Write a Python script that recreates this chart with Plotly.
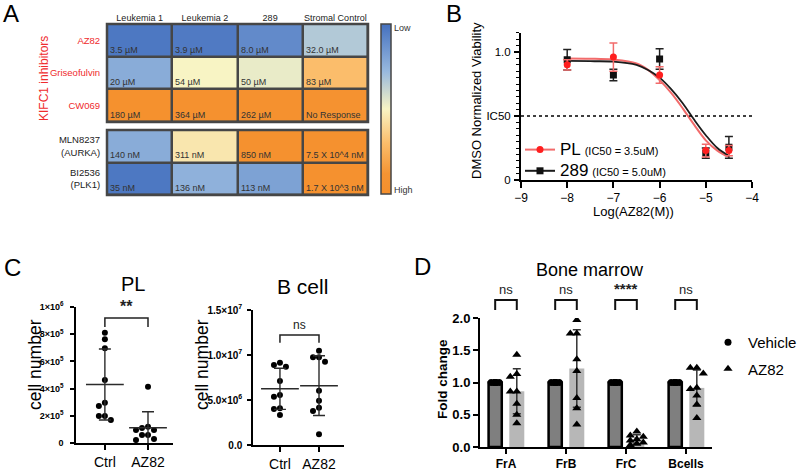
import numpy as np
import plotly.graph_objects as go

W, H = 800, 471
FONT = "Arial, Liberation Sans, Helvetica, sans-serif"
RED_TXT = "#ef2b2d"

# ================= DATA =================
# ---- Panel A: IC50 heat map ----
cell_lines = ["Leukemia 1", "Leukemia 2", "289", "Stromal Control"]
kifc1_inhibitors = ["AZ82", "Griseofulvin", "CW069"]
kifc1_ic50_labels = [
    ["3.5 µM", "3.9 µM", "8.0 µM", "32.0 µM"],
    ["20 µM", "54 µM", "50 µM", "83 µM"],
    ["180 µM", "364 µM", "262 µM", "No Response"],
]
# colour level (1 = low IC50 / blue, 0 = high IC50 / orange)
kifc1_level = [
    [0.97, 0.96, 0.90, 0.66],
    [0.77, 0.50, 0.535, 0.30],
    [0.04, 0.05, 0.05, 0.06],
]
mitotic_inhibitors = ["MLN8237<br>(AURKA)", "BI2536<br>(PLK1)"]
mitotic_ic50_labels = [
    ["140 nM", "311 nM", "850 nM", "7.5 X 10^4 nM"],
    ["35 nM", "136 nM", "113 nM", "1.7 X 10^3 nM"],
]
mitotic_level = [
    [0.77, 0.45, 0.05, 0.05],
    [0.97, 0.75, 0.81, 0.05],
]
scale_labels = ["Low", "High"]

# ---- Panel B: dose response ----
log_conc = [-8, -7, -6, -5, -4.5]
pl_viability = [0.90, 0.96, 0.82, 0.23, 0.23]
pl_sd = [0.04, 0.11, 0.065, 0.05, 0.04]
c289_viability = [0.94, 0.82, 0.945, 0.21, 0.255]
c289_sd = [0.08, 0.045, 0.08, 0.04, 0.085]
fit_log_conc = [-8, -7.5, -7, -6.5, -6.25, -6, -5.75, -5.5, -5.25, -5, -4.75, -4.5]
pl_fit = [0.95, 0.948, 0.94, 0.91, 0.86, 0.78, 0.68, 0.56, 0.43, 0.31, 0.23, 0.18]
c289_fit = [0.93, 0.928, 0.925, 0.90, 0.86, 0.80, 0.71, 0.60, 0.47, 0.35, 0.25, 0.19]
pl_label = "PL"
pl_ic50_text = "(IC50 = 3.5uM)"
c289_label = "289"
c289_ic50_text = "(IC50 = 5.0uM)"

# ---- Panel C: cell numbers ----
treatments = ["Ctrl", "AZ82"]
pl_ctrl = [8.11e5, 7.62e5, 6.96e5, 4.63e5, 2.96e5, 2.72e5, 1.99e5, 1.99e5, 1.69e5]
pl_az82 = [4.14e5, 1.20e5, 1.10e5, 0.96e5, 0.96e5, 0.59e5, 0.59e5, 0.30e5, 0.22e5]
bcell_ctrl = [9.15e6, 8.89e6, 8.70e6, 7.11e6, 5.56e6, 5.37e6, 4.07e6, 4.00e6, 3.33e6]
bcell_az82 = [10.48e6, 9.74e6, 9.74e6, 9.26e6, 6.04e6, 4.93e6, 4.15e6, 3.78e6, 1.19e6]
pl_ticks = [0, 2e5, 4e5, 6e5, 8e5, 1e6]
pl_ticktext = ["0", "2×10<sup>5</sup>", "4×10<sup>5</sup>", "6×10<sup>5</sup>",
               "8×10<sup>5</sup>", "1×10<sup>6</sup>"]
bcell_ticks = [0, 5e6, 1e7, 1.5e7]
bcell_ticktext = ["0.0", "5.0×10<sup>6</sup>", "1.0×10<sup>7</sup>", "1.5×10<sup>7</sup>"]
pl_sig = "**"
bcell_sig = "ns"

# ---- Panel D: bone marrow fold change ----
populations = ["FrA", "FrB", "FrC", "Bcells"]
vehicle_fold = [
    [1.0, 1.0, 1.0, 1.0, 1.0, 1.0, 1.0, 1.0],
    [1.0, 1.0, 1.0, 1.0, 1.0, 1.0, 1.0, 1.0],
    [1.0, 1.0, 1.0, 1.0, 1.0, 1.0, 1.0, 1.0],
    [1.0, 1.0, 1.0, 1.0, 1.0, 1.0, 1.0, 1.0],
]
az82_fold = [
    [1.43, 1.13, 1.09, 0.86, 0.86, 0.67, 0.50, 0.37],
    [1.97, 1.76, 1.76, 1.36, 1.18, 0.76, 0.60, 0.35],
    [0.24, 0.18, 0.16, 0.12, 0.10, 0.07, 0.05, 0.03],
    [1.23, 1.23, 1.14, 0.92, 0.90, 0.80, 0.66, 0.45],
]
d_significance = ["ns", "ns", "****", "ns"]

# ================= LAYOUT GEOMETRY (pixels) =================
A_X = (107, 368); A_TOP = (122, 24); A_BOT = (195, 130)
B_X = (521, 752); B_Y = (180, 32.8); B_XR = [-9, -4]; B_YR = [0, 1.15]
PL_X = (76, 173); PL_Y = (443, 307); PL_XR = [-0.67, 1.58]; PL_YR = [0, 1e6]
BC_X = (253, 344); BC_Y = (445, 310); BC_XR = [-0.69, 1.64]; BC_YR = [0, 1.5e7]
D_X = (480, 712); D_Y = (447, 318); D_XR = [-0.433, 3.433]; D_YR = [0, 2.0]


def dx(p):
    return [p[0] / W, p[1] / W]


def dy(p):
    return [1 - p[0] / H, 1 - p[1] / H]


def px_per_unit(pix, rng):
    return abs(pix[1] - pix[0]) / (rng[1] - rng[0])


def swarm(values, ypx, step, diam, max_off=None):
    """deterministic beeswarm offsets (in px) for dot plots"""
    vals = np.asarray(values, dtype=float)
    cands = [0.0]
    for k in range(1, 8):
        cands += [-k * step, k * step]
    if max_off is not None:
        cands = [c for c in cands if abs(c) <= max_off + 1e-9]
    placed, res = [], [0.0] * len(vals)
    for i in np.argsort(-vals, kind="stable"):
        y = vals[i] * ypx
        best, bestd = cands[0], -1
        for c in cands:
            d = min([np.hypot(c - a, y - b) for a, b in placed], default=1e9)
            if d >= diam:
                best = c
                break
            if d > bestd:
                best, bestd = c, d
        placed.append((best, y))
        res[i] = best
    return np.array(res)


fig = go.Figure()
ann = []
shapes = []

# ================= PANEL A =================
cs = [[0.0, "#f58f2c"], [0.12, "#f59433"], [0.30, "#fbbd6b"], [0.50, "#f8f4c4"],
      [0.72, "#98b9de"], [1.0, "#4470bf"]]
fig.add_trace(go.Heatmap(z=kifc1_level, x=cell_lines, y=kifc1_inhibitors,
                         coloraxis="coloraxis", xgap=2.5, ygap=2.5,
                         xaxis="x", yaxis="y", hoverinfo="skip"))
fig.add_trace(go.Heatmap(z=mitotic_level, x=cell_lines, y=mitotic_inhibitors,
                         coloraxis="coloraxis", xgap=2.5, ygap=2.5,
                         xaxis="x2", yaxis="y2", hoverinfo="skip"))
for labels, xa, ya in [(kifc1_ic50_labels, "x", "y"), (mitotic_ic50_labels, "x2", "y2")]:
    for r, row in enumerate(labels):
        for c, t in enumerate(row):
            ann.append(dict(x=c - 0.5, y=r + 0.5, xref=xa, yref=ya, text=t, showarrow=False,
                            xanchor="left", yanchor="bottom", xshift=1, yshift=0,
                            font=dict(size=9, color="#333")))
    shapes.append(dict(type="rect", xref=f"{xa} domain", yref=f"{ya} domain", x0=0, x1=1,
                       y0=0, y1=1, fillcolor="#464646", line=dict(width=0), layer="below"))
    shapes.append(dict(type="rect", xref=f"{xa} domain", yref=f"{ya} domain", x0=0, x1=1,
                       y0=0, y1=1, fillcolor="rgba(0,0,0,0)",
                       line=dict(color="#464646", width=2.5), layer="above"))
ann.append(dict(x=44 / W, y=1 - 79 / H, xref="paper", yref="paper", text="KIFC1 inhibitors",
                textangle=-90, showarrow=False, xanchor="center", yanchor="middle",
                font=dict(size=12, color=RED_TXT)))

# ================= PANEL B =================
fig.add_trace(go.Scatter(x=fit_log_conc, y=pl_fit, mode="lines", xaxis="x3", yaxis="y3",
                         line=dict(color="#f26b6b", width=2, shape="spline"),
                         showlegend=False, hoverinfo="skip"))
fig.add_trace(go.Scatter(x=fit_log_conc, y=c289_fit, mode="lines", xaxis="x3", yaxis="y3",
                         line=dict(color="#1c1c1c", width=1.8, shape="spline"),
                         showlegend=False, hoverinfo="skip"))
fig.add_trace(go.Scatter(x=log_conc, y=c289_viability, mode="markers", xaxis="x3", yaxis="y3",
                         marker=dict(symbol="square", size=7, color="#111"),
                         error_y=dict(type="data", array=c289_sd, color="#222",
                                      thickness=1.5, width=4),
                         showlegend=False))
fig.add_trace(go.Scatter(x=log_conc, y=pl_viability, mode="markers", xaxis="x3", yaxis="y3",
                         marker=dict(symbol="circle", size=7, color="#ff1f1f"),
                         error_y=dict(type="data", array=pl_sd, color="#f26b6b",
                                      thickness=1.5, width=4),
                         showlegend=False))
fig.add_trace(go.Scatter(x=[None], y=[None], mode="lines+markers", xaxis="x3", yaxis="y3",
                         name=f"<span style='font-size:17px'>{pl_label}</span> "
                              f"<span style='font-size:11px'>{pl_ic50_text}</span>",
                         line=dict(color="#f26b6b", width=2),
                         marker=dict(color="#ff1f1f", size=7), legend="legend"))
fig.add_trace(go.Scatter(x=[None], y=[None], mode="lines+markers", xaxis="x3", yaxis="y3",
                         name=f"<span style='font-size:17px'>{c289_label}</span> "
                              f"<span style='font-size:11px'>{c289_ic50_text}</span>",
                         line=dict(color="#1c1c1c", width=2),
                         marker=dict(color="#111", size=7, symbol="square"), legend="legend"))
shapes.append(dict(type="line", xref="x3", yref="y3", x0=B_XR[0], x1=B_XR[1], y0=0.5, y1=0.5,
                   line=dict(color="black", width=1.5, dash="dot")))


# ================= PANEL C =================
def dot_panel(groups, xa, ya, xpix, ypix, xr, yr):
    xpu = px_per_unit(xpix, xr)
    ypu = px_per_unit(ypix, yr)
    for i, vals in enumerate(groups):
        offs = swarm(vals, ypu, step=6, diam=6) / xpu
        fig.add_trace(go.Scatter(x=i + offs, y=vals, mode="markers", xaxis=xa, yaxis=ya,
                                 marker=dict(size=6, color="black"), showlegend=False,
                                 hoverinfo="y"))
    means = [float(np.mean(v)) for v in groups]
    sds = [float(np.std(v, ddof=1)) for v in groups]
    fig.add_trace(go.Scatter(x=list(range(len(groups))), y=means, mode="markers",
                             xaxis=xa, yaxis=ya, showlegend=False, hoverinfo="skip",
                             marker=dict(symbol="line-ew", size=27,
                                         line=dict(width=1.6, color="#2b2b2b")),
                             error_y=dict(type="data", array=sds, color="#2b2b2b",
                                          thickness=1.4, width=6)))


dot_panel([pl_ctrl, pl_az82], "x4", "y4", PL_X, PL_Y, PL_XR, PL_YR)
dot_panel([bcell_ctrl, bcell_az82], "x5", "y5", BC_X, BC_Y, BC_XR, BC_YR)

for xa, ya, top, leg, txt, fsz, wgt in [("x4", "y4", 0.919, 0.853, pl_sig, 16, "bold"),
                                        ("x5", "y5", 0.815, 0.758, bcell_sig, 12, "normal")]:
    shapes.append(dict(type="path", xref=xa, yref=f"{ya} domain",
                       path=f"M 0,{leg} L 0,{top} L 1,{top} L 1,{leg}",
                       line=dict(color="#222", width=1.5)))
    ann.append(dict(x=0.5, y=top, xref=xa, yref=f"{ya} domain", text=txt, showarrow=False,
                    xanchor="center", yanchor="bottom", yshift=1,
                    font=dict(size=fsz, color="#222", weight=wgt)))

# ================= PANEL D =================
idx = np.arange(len(populations))
veh_x = idx - 0.18
az_x = idx + 0.18
veh_mean = [float(np.mean(v)) for v in vehicle_fold]
az_mean = [float(np.mean(v)) for v in az82_fold]
az_sd = [float(np.std(v, ddof=1)) for v in az82_fold]
fig.add_trace(go.Bar(x=veh_x, y=veh_mean, width=0.22, xaxis="x6", yaxis="y6",
                     marker=dict(color="#7f7f7f", line=dict(color="black", width=2.5)),
                     showlegend=False, hoverinfo="skip"))
fig.add_trace(go.Bar(x=az_x, y=az_mean, width=0.25, xaxis="x6", yaxis="y6",
                     marker=dict(color="#b7b7b7", line=dict(width=0)),
                     error_y=dict(type="data", array=az_sd, color="#333", thickness=1.5, width=4),
                     showlegend=False, hoverinfo="skip"))
dxpu = px_per_unit(D_X, D_XR)
dypu = px_per_unit(D_Y, D_YR)
vx, vy, ax_, ay_ = [], [], [], []
for i in range(len(populations)):
    o = swarm(vehicle_fold[i], dypu, step=4, diam=7, max_off=4) / dxpu
    vx += list(veh_x[i] + o)
    vy += list(vehicle_fold[i])
    o = swarm(az82_fold[i], dypu, step=6.5, diam=7.5, max_off=7) / dxpu
    ax_ += list(az_x[i] + o)
    ay_ += list(az82_fold[i])
fig.add_trace(go.Scatter(x=vx, y=vy, mode="markers", xaxis="x6", yaxis="y6", name="Vehicle",
                         marker=dict(symbol="circle", size=7, color="black"),
                         legend="legend2", legendgroup="veh"))
fig.add_trace(go.Scatter(x=ax_, y=ay_, mode="markers", xaxis="x6", yaxis="y6", name="AZ82",
                         marker=dict(symbol="triangle-up", size=8, color="black"),
                         legend="legend2", legendgroup="az"))
for i, s in enumerate(d_significance):
    shapes.append(dict(type="path", xref="x6", yref="y6 domain",
                       path=f"M {veh_x[i]},1.062 L {veh_x[i]},1.14 L {az_x[i]},1.14 L {az_x[i]},1.062",
                       line=dict(color="#111", width=2)))
    ann.append(dict(x=idx[i], y=1.14, xref="x6", yref="y6 domain", text=s,
                    showarrow=False, xanchor="center", yanchor="bottom", yshift=1,
                    font=dict(size=13 if s == "ns" else 15, color="#222",
                              weight="normal" if s == "ns" else "bold")))

# ================= TEXT =================
for letter, x, y in [("A", 1, 14), ("B", 444, 14), ("C", 2, 267), ("D", 412, 266)]:
    ann.append(dict(x=x / W, y=1 - y / H, xref="paper", yref="paper", text=letter,
                    showarrow=False, xanchor="left", yanchor="middle",
                    font=dict(size=24, color="black")))
titles = [
    ("PL", 133, 284, 20, 0, "normal"), ("B cell", 302, 286, 21, 0, "normal"),
    ("Bone marrow", 590, 270, 18, 0, "normal"),
    ("cell number", 35, 365, 17.5, -90, "normal"), ("cell number", 202, 365, 17.5, -90, "normal"),
    ("Fold change", 442, 379, 13.5, -90, "bold"),
    ("DMSO Normalized Viability", 477, 100, 13, -90, "normal"),
    ("Log(AZ82(M))", 633, 211, 13, 0, "normal"),
]
for t, x, y, s, ang, wgt in titles:
    ann.append(dict(x=x / W, y=1 - y / H, xref="paper", yref="paper", text=t, showarrow=False,
                    xanchor="center", yanchor="middle",
                    textangle=ang, font=dict(size=s, color="black", weight=wgt)))


def ax(**kw):
    d = dict(showline=True, linecolor="black", linewidth=1.5, ticks="outside",
             tickcolor="black", tickwidth=1.5, ticklen=5, showgrid=False, zeroline=False,
             tickfont=dict(size=10, color="black"), fixedrange=True)
    d.update(kw)
    return d


hm_ax = dict(showgrid=False, zeroline=False, showline=False, fixedrange=True)

fig.update_layout(
    width=W, height=H, margin=dict(l=0, r=0, t=0, b=0, autoexpand=False),
    paper_bgcolor="white", plot_bgcolor="white", template="none",
    font=dict(family=FONT, color="black"), barmode="overlay",
    coloraxis=dict(cmin=0, cmax=1, colorscale=cs,
                   colorbar=dict(x=381 / W, xanchor="left", xpad=0, y=1 - 24 / H,
                                 yanchor="top", ypad=0, len=170 / H, lenmode="fraction",
                                 thickness=10, thicknessmode="pixels", outlinewidth=1.5,
                                 outlinecolor="#464646", tickvals=[0.975, 0.025],
                                 ticktext=scale_labels, ticks="",
                                 tickfont=dict(size=9, color="#333"))),
    xaxis=dict(hm_ax, domain=dx(A_X), anchor="y", side="top", ticks="",
               range=[-0.5, len(cell_lines) - 0.5],
               tickfont=dict(size=9, color="#222")),
    yaxis=dict(hm_ax, domain=dy(A_TOP), anchor="x", range=[len(kifc1_inhibitors) - 0.5, -0.5],
               ticks="outside", ticklen=4, tickcolor="rgba(0,0,0,0)",
               tickfont=dict(size=9.5, color=RED_TXT)),
    xaxis2=dict(hm_ax, domain=dx(A_X), anchor="y2", showticklabels=False, ticks="",
                range=[-0.5, len(cell_lines) - 0.5]),
    yaxis2=dict(hm_ax, domain=dy(A_BOT), anchor="x2",
                range=[len(mitotic_inhibitors) - 0.5, -0.5], ticks="outside",
                ticklen=4, tickcolor="rgba(0,0,0,0)", tickfont=dict(size=9.5, color="#222")),
    xaxis3=ax(domain=dx(B_X), anchor="y3", range=B_XR, dtick=1, linewidth=2, ticklen=6,
              tickfont=dict(size=12)),
    yaxis3=ax(domain=dy(B_Y), anchor="x3", range=B_YR, tickvals=[0, 0.5, 1.0],
              ticktext=["0", "IC50", "1.0"], linewidth=2, ticklen=5, ticklabelstandoff=1,
              tickfont=dict(size=11.5),
              minor=dict(dtick=0.05, ticks="outside", ticklen=3, tickwidth=1,
                         tickcolor="black")),
    xaxis4=ax(domain=dx(PL_X), anchor="y4", range=PL_XR, tickvals=[0, 1],
              ticktext=treatments, tickfont=dict(size=14)),
    yaxis4=ax(domain=dy(PL_Y), anchor="x4", range=PL_YR, tickvals=pl_ticks,
              ticktext=pl_ticktext, ticklen=4, ticklabelstandoff=5,
              tickfont=dict(size=9, weight="bold")),
    xaxis5=ax(domain=dx(BC_X), anchor="y5", range=BC_XR, tickvals=[0, 1],
              ticktext=treatments, tickfont=dict(size=14)),
    yaxis5=ax(domain=dy(BC_Y), anchor="x5", range=BC_YR, tickvals=bcell_ticks,
              ticktext=bcell_ticktext, ticklen=4, ticklabelstandoff=3,
              tickfont=dict(size=10, weight="bold")),
    xaxis6=ax(domain=dx(D_X), anchor="y6", range=D_XR, tickvals=list(idx),
              ticktext=populations, linewidth=2, tickwidth=2,
              tickfont=dict(size=12, weight="bold")),
    yaxis6=ax(domain=dy(D_Y), anchor="x6", range=D_YR, dtick=0.5, tickformat=".1f",
              linewidth=2, tickwidth=2, tickfont=dict(size=13, weight="bold")),
    legend=dict(x=520 / W, y=1 - 134 / H, xanchor="left", yanchor="top",
                bgcolor="rgba(0,0,0,0)", font=dict(size=14, color="black"),
                itemwidth=30, tracegroupgap=0),
    legend2=dict(x=708 / W, y=1 - 326 / H, xanchor="left", yanchor="top",
                 bgcolor="rgba(0,0,0,0)", font=dict(size=15, color="black"),
                 itemwidth=30, traceorder="grouped", tracegroupgap=4),
    annotations=ann, shapes=shapes,
)

fig.write_html("out.html", config={"displayModeBar": False},
               post_script="document.body.style.margin='0';document.body.style.padding='0';")
